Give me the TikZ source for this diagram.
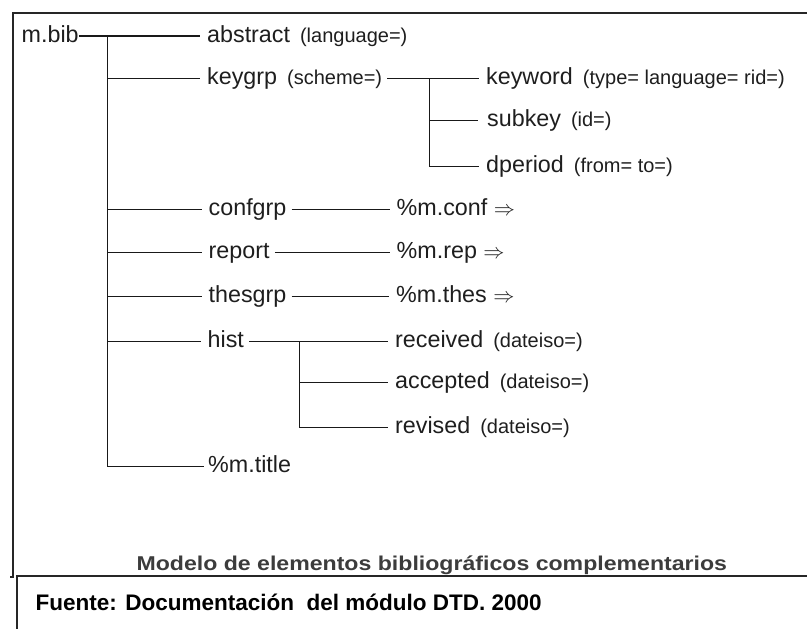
\documentclass[tikz,border=0pt]{standalone}
\usepackage{fontspec}
\setmainfont{Liberation Sans}
\definecolor{txt}{HTML}{1E1E1E}
\definecolor{capgray}{HTML}{3C3C3C}
\newcommand{\sm}[1]{{\fontsize{20pt}{24pt}\selectfont #1}}
\newcommand{\gap}{\hspace{10pt}}
\newcommand{\darr}{\scalebox{0.85}{$\Rightarrow$}}
\begin{document}
\begin{tikzpicture}[x=1pt,y=-1pt,
  lab/.style={inner sep=0pt, anchor=west, text height=17pt, text depth=5pt,
    font=\fontsize{23.3pt}{28pt}\selectfont, text=txt},
  tree/.style={line width=1.4pt, draw=black!90},
  lg/.style={shorten >=7pt},
  rg/.style={shorten <=5pt},
  frame/.style={line width=2pt, draw=black!85}
]
\useasboundingbox (0,0) rectangle (807,629);
% frame
\draw[frame] (807,13.3) -- (13.3,13.3) -- (13.3,577.3) -- (10,577.3);
\draw[frame] (807,575.5) -- (16,575.5);
\draw[frame] (17.3,575.5) -- (17.3,629);

% labels
\node[lab] (mbib) at (21.5,36) {m.bib};
\node[lab] (abstract) at (207,36) {abstract\gap\sm{(language=)}};
\node[lab] (keygrp) at (207,78.3) {keygrp\gap\sm{(scheme=)}};
\node[lab] (keyword) at (486,78.3) {keyword\gap\sm{(type= language= rid=)}};
\node[lab] (subkey) at (487,120.7) {subkey\gap\sm{(id=)}};
\node[lab] (dperiod) at (486,166.7) {dperiod\gap\sm{(from= to=)}};
\node[lab] (confgrp) at (208.5,209.3) {confgrp};
\node[lab] (mconf) at (396.5,209.3) {\%m.conf \darr};
\node[lab] (report) at (208.5,252.7) {report};
\node[lab] (mrep) at (396.5,252.7) {\%m.rep \darr};
\node[lab] (thesgrp) at (208.5,296.7) {thesgrp};
\node[lab] (mthes) at (396,296.7) {\%m.thes \darr};
\node[lab] (hist) at (207.5,341.7) {hist};
\node[lab] (received) at (395,341.7) {received\gap\sm{(dateiso=)}};
\node[lab] (accepted) at (395,382.3) {accepted\gap\sm{(dateiso=)}};
\node[lab] (revised) at (395,427.7) {revised\gap\sm{(dateiso=)}};
\node[lab] (mtitle) at (208,466.7) {\%m.title};

% trunk
\coordinate (trunktop) at (107.3,36);
\coordinate (trunkbot) at (107.3,466.7);
\draw[tree] (trunktop) -- (trunkbot);
\draw[tree,lg] (mbib.east) -- (abstract.west);
\foreach \n in {keygrp,confgrp,report,thesgrp,hist}
  \draw[tree,lg] (trunktop |- \n.west) -- (\n.west);
\draw[tree,shorten >=4pt] (trunkbot) -- (mtitle.west);

% keygrp subtree
\coordinate (kj) at (429.3,78.3);
\draw[tree,lg,rg] (keygrp.east) -- (keyword.west);
\draw[tree] (kj) -- (kj |- dperiod.west);
\draw[tree,shorten >=9pt] (kj |- subkey.west) -- (subkey.west);
\draw[tree,lg] (kj |- dperiod.west) -- (dperiod.west);

% simple links
\draw[tree,lg,rg] (confgrp.east) -- (mconf.west);
\draw[tree,lg,rg] (report.east) -- (mrep.west);
\draw[tree,lg,rg] (thesgrp.east) -- (mthes.west);

% hist subtree
\coordinate (hj) at (299.3,341.7);
\draw[tree,lg,rg] (hist.east) -- (received.west);
\draw[tree] (hj) -- (hj |- revised.west);
\draw[tree,lg] (hj |- accepted.west) -- (accepted.west);
\draw[tree,lg] (hj |- revised.west) -- (revised.west);

% captions
\node[inner sep=0pt, anchor=base, text=capgray,
  font=\fontsize{20pt}{24pt}\selectfont\bfseries] (caption) at (431.8,570)
  {\scalebox{1.155}[1]{Modelo de elementos bibliográficos complementarios}};
\node[inner sep=0pt, anchor=base west, text=black,
  font=\fontsize{22.5pt}{27pt}\selectfont\bfseries] (fuente) at (35.5,610)
  {Fuente: Documentación\ \ del módulo DTD. 2000};
\end{tikzpicture}
\end{document}
